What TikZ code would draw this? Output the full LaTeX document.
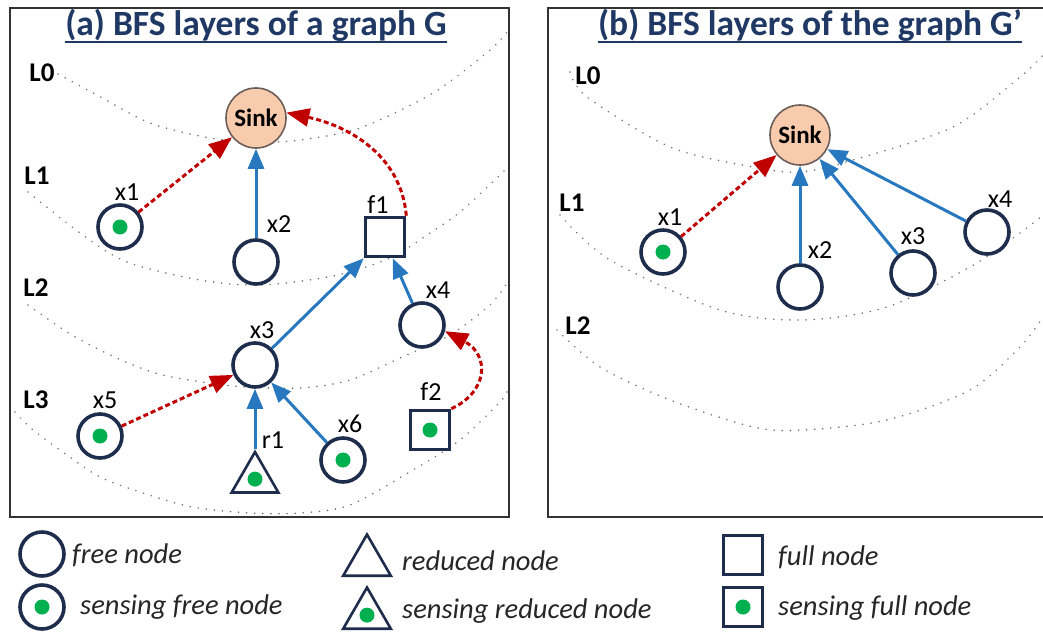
\documentclass[tikz,border=0pt]{standalone}
\usepackage{fontspec}
\setmainfont{Carlito}
\usetikzlibrary{arrows.meta,shapes.geometric,calc}
\definecolor{navy}{HTML}{1F2D4D}
\definecolor{titleblue}{HTML}{1F3864}
\definecolor{arrowblue}{HTML}{2878C0}
\definecolor{arrowred}{HTML}{C00000}
\definecolor{sgreen}{HTML}{00B050}
\definecolor{sinkfill}{HTML}{F8CBAD}
\definecolor{sinkline}{HTML}{6B5E58}
\definecolor{frameline}{HTML}{333333}
\definecolor{textgray}{HTML}{262626}
\definecolor{dotgray}{HTML}{707070}

\begin{document}
\begin{tikzpicture}[x=1pt,y=-1pt,
  panel/.style={draw=frameline,line width=2.6pt},
  title/.style={font=\fontsize{35.5}{38}\selectfont\bfseries,text=titleblue,inner sep=0pt,anchor=base},
  layer/.style={draw=dotgray,line width=1.7pt,dash pattern=on 0.1pt off 8pt,line cap=round},
  layerlab/.style={font=\fontsize{27}{30}\selectfont\bfseries,text=black,inner sep=0pt},
  lab/.style={font=\fontsize{26}{30}\selectfont,text=black,inner sep=0pt},
  legtext/.style={font=\fontsize{28.5}{32}\selectfont\itshape,text=textgray,inner sep=0pt,anchor=base west},
  sink/.style={circle,draw=sinkline,fill=sinkfill,line width=1.6pt,minimum size=60pt,inner sep=0pt,
    font=\fontsize{25}{28}\selectfont\bfseries},
  freenode/.style={circle,draw=navy,fill=white,line width=3.6pt,minimum size=44pt,inner sep=0pt},
  fullnode/.style={rectangle,draw=navy,fill=white,line width=3.6pt,minimum size=39pt,inner sep=0pt},
  rednode/.style={regular polygon,regular polygon sides=3,draw=navy,fill=white,line width=2.6pt,
    minimum size=54pt,inner sep=0pt},
  sense/.style={path picture={\fill[sgreen] (path picture bounding box.center) circle (7.5pt);}},
  sensetri/.style={path picture={\fill[sgreen]
    ($(path picture bounding box.south)!0.33!(path picture bounding box.north)$) circle (7.5pt);}},
  tree/.style={draw=arrowblue,line width=3pt,-{Triangle[length=20pt,width=16pt]}},
  alt/.style={draw=arrowred,line width=3pt,dash pattern=on 5pt off 3pt,
    -{Triangle[length=23pt,width=18pt]}}]
\useasboundingbox (0,0) rectangle (1043,632);

% ---------- frames ----------
\draw[panel] (10,8) rectangle (509,517);
\draw[panel] (1060,8) -- (548,8) -- (548,517) -- (1060,517);

% ---------- titles ----------
\node[title] (ta) at (256,35) {(a) BFS layers of a graph G};
\draw[titleblue,line width=2pt] ($(ta.base west)+(0,7)$) -- ($(ta.base east)+(0,7)$);
\node[title] (tb) at (810,35) {(b) BFS layers of the graph G’};
\draw[titleblue,line width=2pt] ($(tb.base west)+(0,7)$) -- ($(tb.base east)+(0,7)$);

% ---------- BFS layer boundaries, panel (a) ----------
\draw[layer] plot[smooth] coordinates {(58,74) (97,95) (150,123) (210,138) (258,142) (300,140) (360,128) (433,93) (490,50) (507,32)};
\draw[layer] plot[smooth] coordinates {(28,192) (80,233) (127,262) (200,280) (260,285) (333,276) (390,258) (430,233) (460,212) (500,175) (507,167)};
\draw[layer] plot[smooth] coordinates {(28,305) (67,332) (100,350) (133,365) (167,376) (233,386) (300,388) (350,380) (400,358) (450,335) (490,305) (507,283)};
\draw[layer] plot[smooth] coordinates {(15,412) (33,430) (67,455) (100,477) (143,493) (192,507) (250,513) (300,513) (350,505) (413,470) (460,440) (500,402) (507,392)};

% ---------- BFS layer boundaries, panel (b) ----------
\draw[layer] plot[smooth] coordinates {(570,72) (587,97) (670,147) (753,167) (800,172) (853,160) (953,127) (1020,77) (1043,55)};
\draw[layer] plot[smooth] coordinates {(560,215) (610,260) (720,310) (803,320) (887,307) (970,267) (1020,233) (1043,215)};
\draw[layer] plot[smooth] coordinates {(557,330) (600,367) (670,400) (753,427) (803,430) (887,420) (970,390) (1020,347) (1043,317)};

% ---------- layer labels ----------
\node[layerlab] (aL0) at (42,73) {L0};
\node[layerlab] (aL1) at (37,176) {L1};
\node[layerlab] (aL2) at (36,288) {L2};
\node[layerlab] (aL3) at (36,400) {L3};
\node[layerlab] (bL0) at (588,76) {L0};
\node[layerlab] (bL1) at (572,203) {L1};
\node[layerlab] (bL2) at (578,326) {L2};

% ---------- panel (a): nodes ----------
\node[sink] (sa) at (256,118) {Sink};
\node[freenode,sense] (ax1) at (120,227) {};
\node[freenode] (ax2) at (256,262) {};
\node[fullnode] (af1) at (385,237) {};
\node[freenode] (ax4) at (422,325) {};
\node[freenode] (ax3) at (255,365) {};
\node[freenode,sense] (ax5) at (100,436) {};
\node[rednode,sensetri] (ar1) at (255,479) {};
\node[freenode,sense] (ax6) at (343,460) {};
\node[fullnode,sense] (af2) at (430,430) {};

\node[lab] (lax1) at (127,192) {x1};
\node[lab] (lax2) at (279,224) {x2};
\node[lab] (laf1) at (378,205) {f1};
\node[lab] (lax4) at (438,290) {x4};
\node[lab] (lax3) at (262,330) {x3};
\node[lab] (lax5) at (105,400) {x5};
\node[lab] (lar1) at (273,440) {r1};
\node[lab] (lax6) at (350,424) {x6};
\node[lab] (laf2) at (431,392) {f2};

% ---------- panel (a): edges ----------
\draw[alt] (ax1) -- (sa);
\draw[tree] (ax2) -- (sa);
\draw[alt] (af1.north east) to[out=95,in=-12] (sa.10);
\draw[tree] (ax3) -- (af1.south west);
\draw[tree] (ax4) -- (af1.290);
\draw[alt] (ax5) -- (ax3);
\draw[tree] (ar1.north) -- (ax3);
\draw[tree] (ax6) -- (ax3);
\draw[alt] (af2.north east) .. controls (488,392) and (490,355) .. (ax4.-15);

% ---------- panel (b): nodes ----------
\node[sink] (sb) at (800,135) {Sink};
\node[freenode,sense] (bx1) at (663,252) {};
\node[freenode] (bx2) at (800,287) {};
\node[freenode] (bx3) at (913,273) {};
\node[freenode] (bx4) at (987,232) {};

\node[lab] (lbx1) at (670,217) {x1};
\node[lab] (lbx2) at (820,250) {x2};
\node[lab] (lbx3) at (913,236) {x3};
\node[lab] (lbx4) at (1000,199) {x4};

% ---------- panel (b): edges ----------
\draw[alt] (bx1) -- (sb);
\draw[tree] (bx2) -- (sb);
\draw[tree] (bx3) -- (sb);
\draw[tree] (bx4) -- (sb);

% ---------- legend ----------
\node[freenode] (k1) at (42,554) {};
\node[freenode,sense] (k2) at (42,607) {};
\node[rednode,minimum size=55pt] (k3) at (367,562) {};
\node[rednode,sensetri,minimum size=55pt] (k4) at (367,615) {};
\node[fullnode] (k5) at (743,555) {};
\node[fullnode,sense] (k6) at (743,607) {};

\node[legtext] (t1) at (72,563) {free node};
\node[legtext] (t2) at (80,614) {sensing free node};
\node[legtext] (t3) at (402,570) {reduced node};
\node[legtext] (t4) at (402,618) {sensing reduced node};
\node[legtext] (t5) at (778,565) {full node};
\node[legtext] (t6) at (778,615) {sensing full node};
\end{tikzpicture}
\end{document}
